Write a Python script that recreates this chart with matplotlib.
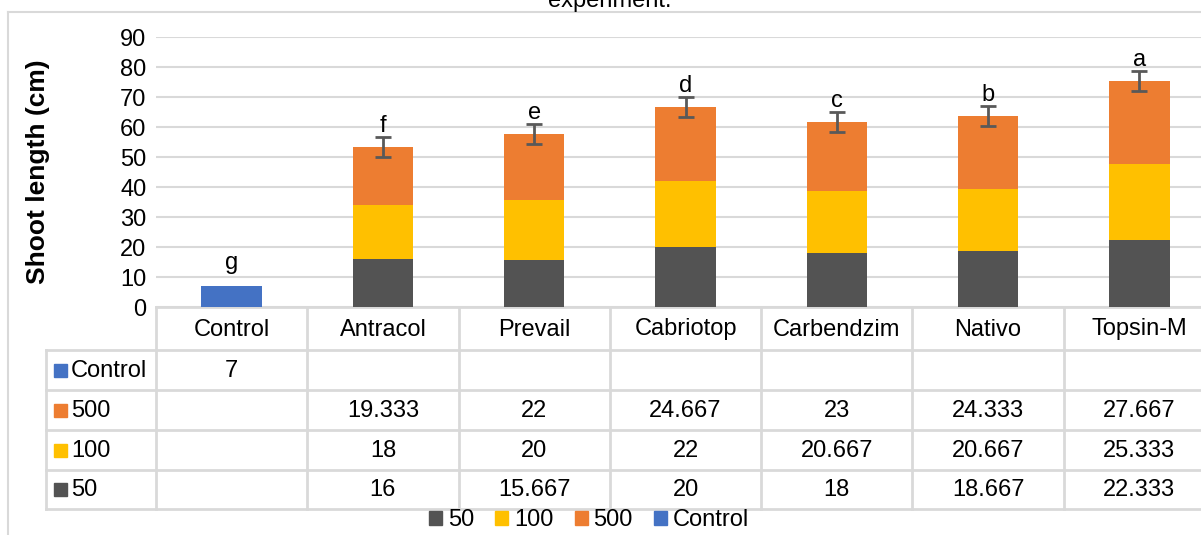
import matplotlib
matplotlib.use("Agg")
import matplotlib.pyplot as plt
from matplotlib.patches import Rectangle
from matplotlib.lines import Line2D
from matplotlib.transforms import blended_transform_factory

plt.rcParams['font.family'] = ['Liberation Sans', 'DejaVu Sans']

# ---------------- data ----------------
categories = ["Control", "Antracol", "Prevail", "Cabriotop", "Carbendzim", "Nativo", "Topsin-M"]
control_vals = [7, None, None, None, None, None, None]
s500 = [None, 19.333, 22, 24.667, 23, 24.333, 27.667]
s100 = [None, 18, 20, 22, 20.667, 20.667, 25.333]
s50 = [None, 16, 15.667, 20, 18, 18.667, 22.333]
errors = [0, 3.2, 3.2, 3.2, 3.2, 3.2, 3.2]
letters = ["g", "f", "e", "d", "c", "b", "a"]
series_names = ["50", "100", "500", "Control"]
title_text = "experiment."
ylabel = "Shoot length (cm)"
yticks = [0, 10, 20, 30, 40, 50, 60, 70, 80, 90]

# ---------------- style ----------------
C50, C100, C500, CCTRL = "#535353", "#FFC000", "#ED7D31", "#4472C4"
GRID = "#D9D9D9"
W, H = 1201, 535
FS = 17

fig = plt.figure(figsize=(W / 100, H / 100), dpi=100)

# overlay axes in pixel coords
over = fig.add_axes([0, 0, 1, 1], zorder=0)
over.set_xlim(0, W)
over.set_ylim(H, 0)
over.axis("off")

# main axes (pixel layout)
ax_l, ax_r, ax_t, ax_b = 156, 1215, 37, 307
ax = fig.add_axes([ax_l / W, 1 - ax_b / H, (ax_r - ax_l) / W, (ax_b - ax_t) / H], zorder=2)
ax.patch.set_alpha(0)
n = len(categories)
ax.set_xlim(-0.5, n - 0.5)
ax.set_ylim(0, 90)
ax.set_yticks(yticks)
ax.set_yticklabels([str(t) for t in yticks], fontsize=FS)
ax.tick_params(axis="y", length=0, pad=7)
ax.tick_params(axis="x", length=0, labelbottom=False)
for s in ax.spines.values():
    s.set_visible(False)
ax.yaxis.grid(True, color=GRID, linewidth=1.5)
ax.set_axisbelow(True)

x = list(range(n))
bw = 0.4
def nz(v):
    return 0 if v is None else v

b50 = [nz(v) for v in s50]
b100 = [nz(v) for v in s100]
b500 = [nz(v) for v in s500]
bc = [nz(v) for v in control_vals]
ax.bar(x, b50, bw, color=C50, zorder=3)
ax.bar(x, b100, bw, bottom=b50, color=C100, zorder=3)
bot2 = [a + b for a, b in zip(b50, b100)]
ax.bar(x, b500, bw, bottom=bot2, color=C500, zorder=3)
ax.bar(x, bc, bw, color=CCTRL, zorder=3)

tops = [a + b + c for a, b, c in zip(bot2, b500, bc)]
ex = [i for i in x if errors[i] > 0]
ax.errorbar(ex, [tops[i] for i in ex], yerr=[errors[i] for i in ex], fmt="none",
            ecolor="#595959", elinewidth=2, capsize=6, capthick=2, zorder=4)
for i in x:
    pad = 1.8 if errors[i] > 0 else 5.7
    ax.text(i, tops[i] + errors[i] + pad, letters[i], ha="center", va="baseline",
            fontsize=FS, zorder=5)

# ---------------- table ----------------
tr = blended_transform_factory(ax.transData, over.transData)
row_y = [307, 350, 390, 430, 470, 509]
lab_l = 46
lw_t = 2
# horizontal lines
over.plot([ax_l, W + 20], [row_y[0]] * 2, color=GRID, lw=lw_t, zorder=1, clip_on=False)
for yy in row_y[1:]:
    over.plot([lab_l, W + 20], [yy, yy], color=GRID, lw=lw_t, zorder=1, clip_on=False)
# vertical lines
over.plot([lab_l, lab_l], [row_y[1], row_y[-1]], color=GRID, lw=lw_t, zorder=1)
for i in range(n + 1):
    ax.plot([i - 0.5, i - 0.5], [row_y[0], row_y[-1]], color=GRID, lw=lw_t,
            transform=tr, clip_on=False, zorder=1)

# header
for i, c in enumerate(categories):
    ax.text(i, (row_y[0] + row_y[1]) / 2 + 1, c, transform=tr, ha="center", va="center",
            fontsize=FS, clip_on=False)

def fmt(v):
    if v is None:
        return ""
    s = f"{v:.3f}".rstrip("0").rstrip(".")
    return s

rows = [("Control", CCTRL, control_vals), ("500", C500, s500),
        ("100", C100, s100), ("50", C50, s50)]
for r, (name, col, vals) in enumerate(rows):
    yc = (row_y[r + 1] + row_y[r + 2]) / 2
    over.add_patch(Rectangle((54, yc - 6.5), 13, 13, color=col, zorder=3))
    over.text(71, yc + 1, name, ha="left", va="center", fontsize=FS)
    for i, v in enumerate(vals):
        ax.text(i, yc + 1, fmt(v), transform=tr, ha="center", va="center",
                fontsize=FS, clip_on=False)

# chart frame
over.plot([8, 8], [12, H + 5], color=GRID, lw=1.5, clip_on=False)
over.plot([8, W + 5], [12, 12], color=GRID, lw=1.5, clip_on=False)

# title (cut off at top)
over.text(610, 7, title_text, ha="center", va="baseline", fontsize=FS, clip_on=False)

# y label
fig.text(38 / W, 1 - 172 / H, ylabel, rotation=90, ha="center", va="center",
         fontsize=19, fontweight="bold")

# legend
handles = [Rectangle((0, 0), 1, 1, color=c) for c in [C50, C100, C500, CCTRL]]
fig.legend(handles, series_names, loc="center", bbox_to_anchor=(589 / W, 1 - 520 / H),
           ncol=4, frameon=False, fontsize=FS, handlelength=0.55, handleheight=0.55,
           handletextpad=0.25, columnspacing=0.9, borderpad=0)

fig.savefig("out.png", dpi=100)
